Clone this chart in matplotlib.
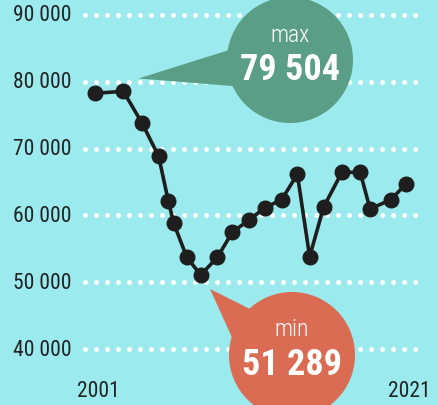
import matplotlib
matplotlib.use("Agg")
import matplotlib.pyplot as plt
from matplotlib.patches import Circle, Polygon
from matplotlib.transforms import Affine2D
from matplotlib import font_manager
import numpy as np

# ---- data ----
years = [2001.00, 2002.82, 2004.02, 2005.09, 2005.71, 2006.06, 2006.89, 2007.79,
         2008.86, 2009.82, 2010.89, 2011.92, 2012.99, 2014.00, 2014.79, 2015.69,
         2016.86, 2018.04, 2018.67, 2020.00, 2021.00]
values = [78253, 78552, 73813, 68835, 62152, 58818, 53780, 51089,
          53735, 57473, 59312, 61150, 62346, 66144, 53825, 61255,
          66443, 66443, 60956, 62346, 64738]
y_ticks = [40000, 50000, 60000, 70000, 80000, 90000]
y_tick_labels = ["40 000", "50 000", "60 000", "70 000", "80 000", "90 000"]
x_labels = ["2001", "2021"]
x_label_years = [2001, 2021]
max_label = "79 504"
min_label = "51 289"

# ---- font choice: prefer a condensed family if one is installed ----
names = sorted({f.name for f in font_manager.fontManager.ttflist})
cond = None
for pref in ["Roboto Condensed", "Liberation Sans Narrow", "Open Sans Condensed",
             "DejaVu Sans Condensed"]:
    if pref in names:
        cond = pref
        break
if cond is None:
    for n in names:
        if "Condensed" in n or "Narrow" in n:
            cond = n
            break
FONT = [cond, "DejaVu Sans"] if cond else ["Liberation Sans", "DejaVu Sans"]
scale = 1.0 if cond else 0.8

# ---- style ----
BG = "#9aeaee"
GREEN = "#5a9e85"
ORANGE = "#d96c52"
INK = "#1e1e1e"

W, H, DPI = 438, 406, 100
fig = plt.figure(figsize=(W / DPI, H / DPI), dpi=DPI, facecolor=BG)
ax = fig.add_axes([0, 0, 1, 1])
ax.set_facecolor(BG)
ax.set_xlim(1994.897, 2023.036)
ax.set_ylim(31654, 92351)
ax.axis("off")

# pixel transform (x right, y down) for decorative callouts
px = Affine2D().scale(1 / DPI, -1 / DPI).translate(0, H / DPI) + fig.dpi_scale_trans

# dotted gridlines
for v, lab in zip(y_ticks, y_tick_labels):
    ax.plot([2000.36, 2021.82], [v, v], color="white", lw=3.6,
            linestyle=(0, (0.001, 2.2)), dash_capstyle="round", zorder=1)
    ax.text(2001 - 23 / 15.565, v, lab, ha="right", va="center",
            fontsize=15.5 * scale, family=FONT, color="#222222")

for yr, lab in zip(x_label_years, x_labels):
    ax.text(yr + 3 / 15.565, 31654 + (406 - 391) / 6.689 * 1000, lab, ha="center",
            va="center", fontsize=15.5 * scale, family=FONT, color="#222222")

# line
ax.plot(years, values, color=INK, lw=2.6, marker="o", markersize=10.5,
        markerfacecolor=INK, markeredgecolor=INK, zorder=3)

# max callout
ax.add_patch(Polygon([(138.5, 79.5), (245, 46), (245, 88)], closed=True,
                     facecolor=GREEN, edgecolor="none", transform=px, zorder=4))
ax.add_patch(Circle((290, 61), 63, facecolor=GREEN, edgecolor="none", transform=px, zorder=4))
ax.text(290, 36, "max", transform=px, ha="center", va="center", fontsize=17 * scale,
        family=FONT, color="white", weight="light", zorder=5)
ax.text(290, 70, max_label, transform=px, ha="center", va="center", fontsize=26 * scale,
        family=FONT, weight="bold", color="white", zorder=5)

# min callout
ax.add_patch(Polygon([(210, 290), (250, 310), (235, 345)], closed=True,
                     facecolor=ORANGE, edgecolor="none", transform=px, zorder=4))
ax.add_patch(Circle((292, 356), 63, facecolor=ORANGE, edgecolor="none", transform=px, zorder=4))
ax.text(292, 330, "min", transform=px, ha="center", va="center", fontsize=17 * scale,
        family=FONT, color="white", weight="light", zorder=5)
ax.text(292, 365, min_label, transform=px, ha="center", va="center", fontsize=26 * scale,
        family=FONT, weight="bold", color="white", zorder=5)

fig.savefig("out.png", dpi=DPI, facecolor=BG)
